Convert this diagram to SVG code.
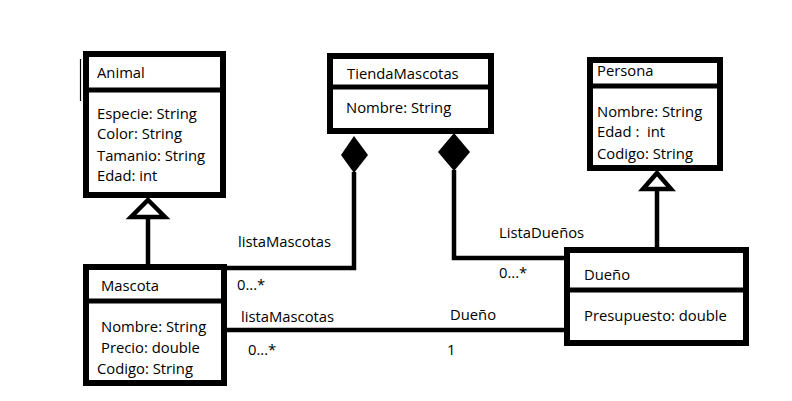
<svg xmlns="http://www.w3.org/2000/svg" width="792" height="401" viewBox="0 0 792 401">
<style>
.box{fill:#fff;stroke:#000;stroke-width:6}
.div{stroke:#000;stroke-width:5}
.ln{fill:none;stroke:#000;stroke-width:4.5}
text{font-family:"Open Sans","DejaVu Sans",sans-serif;font-size:14.8px;fill:#000}
</style>
<rect width="792" height="401" fill="#fff"/>
<g id="connectors">
<line x1="80.5" y1="59" x2="80.5" y2="101" stroke="#000" stroke-width="1.2"/>
<polyline class="ln" points="226,268 354,268 354,172"/>
<polygon points="354,136 368,155 354,173 341,155" fill="#000"/>
<polyline class="ln" points="565,258 454,258 454,170"/>
<polygon points="454,133 470,152 454,171 438,152" fill="#000"/>
<line class="ln" x1="148" y1="217" x2="148" y2="266"/>
<polygon points="148,200 165,217 131,217" fill="#fff" stroke="#000" stroke-width="4.5"/>
<line class="ln" x1="657" y1="189" x2="657" y2="248"/>
<polygon points="657,173 671,189 643,189" fill="#fff" stroke="#000" stroke-width="4.5"/>
<line class="ln" x1="226" y1="330" x2="566" y2="330"/>
<text x="238" y="247">listaMascotas</text>
<text x="237" y="290">0...*</text>
<text x="241" y="322">listaMascotas</text>
<text x="248" y="355">0...*</text>
<text x="499" y="238">ListaDueños</text>
<text x="499" y="278">0...*</text>
<text x="450" y="320">Dueño</text>
<text x="447" y="355">1</text>
</g>
<g id="Animal">
<rect class="box" x="86" y="54" width="137" height="141"/>
<line class="div" x1="86" y1="90" x2="223" y2="90"/>
<text x="97" y="78">Animal</text>
<text x="97" y="119">Especie: String</text>
<text x="97" y="139">Color: String</text>
<text x="97" y="161">Tamanio: String</text>
<text x="97" y="181">Edad: int</text>
</g>
<g id="TiendaMascotas">
<rect class="box" x="330" y="56" width="161" height="75"/>
<line class="div" x1="330" y1="87" x2="491" y2="87"/>
<text x="347" y="79">TiendaMascotas</text>
<text x="346" y="113">Nombre: String</text>
</g>
<g id="Persona">
<rect class="box" x="590" y="60" width="130" height="108"/>
<line class="div" x1="590" y1="86" x2="720" y2="86"/>
<text x="597" y="76">Persona</text>
<text x="597" y="117">Nombre: String</text>
<text x="597" y="137" style="white-space:pre">Edad :  int</text>
<text x="597" y="159">Codigo: String</text>
</g>
<g id="Mascota">
<rect class="box" x="86" y="267" width="138" height="116"/>
<line class="div" x1="86" y1="301" x2="224" y2="301"/>
<text x="101" y="291">Mascota</text>
<text x="101" y="332">Nombre: String</text>
<text x="101" y="353">Precio: double</text>
<text x="97" y="374">Codigo: String</text>
</g>
<g id="Dueno">
<rect class="box" x="567" y="250" width="179" height="93"/>
<line class="div" x1="567" y1="290" x2="746" y2="290"/>
<text x="584" y="280">Dueño</text>
<text x="584" y="321">Presupuesto: double</text>
</g>
</svg>
